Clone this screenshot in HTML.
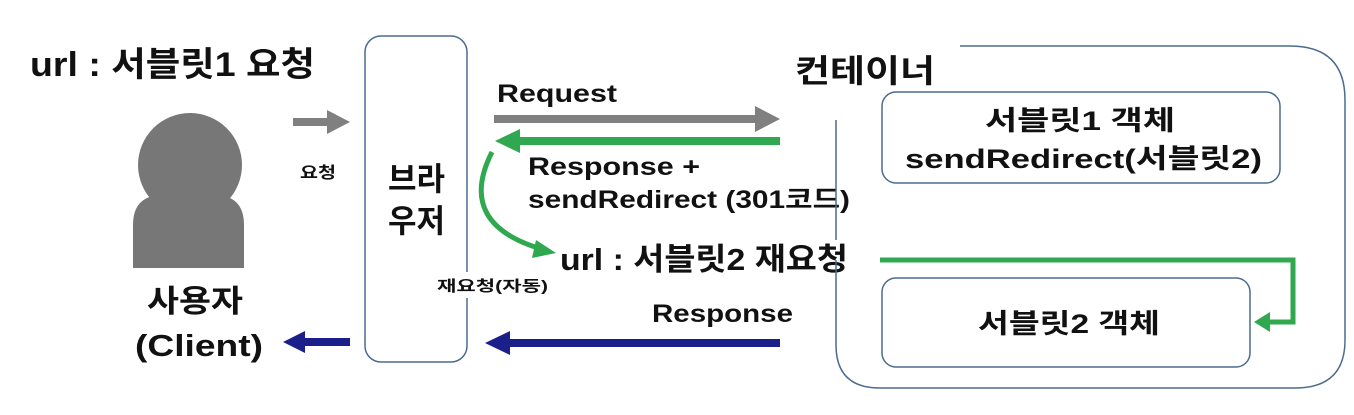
<!DOCTYPE html>
<html><head><meta charset="utf-8"><style>
body{margin:0;background:#fff;}
svg text{font-family:"Liberation Sans","Noto Sans CJK KR",sans-serif;font-weight:bold;fill:#111;}
</style></head><body>
<svg width="1354" height="410" viewBox="0 0 1354 410" xmlns="http://www.w3.org/2000/svg">
<!-- person -->
<circle cx="190" cy="165" r="52" fill="#777"/>
<path d="M133,268V225Q133,195 163,195H214Q244,195 244,225V268Z" fill="#777"/>
<text x="30" y="76" font-size="34" textLength="285" lengthAdjust="spacingAndGlyphs">url : 서블릿1 요청</text>
<text x="147" y="312" font-size="31" textLength="96" lengthAdjust="spacingAndGlyphs">사용자</text>
<text x="135" y="356" font-size="31" textLength="128" lengthAdjust="spacingAndGlyphs">(Client)</text>
<!-- small gray arrow -->
<path d="M293,118H327V110L350,122L327,134V126H293Z" fill="#808080"/>
<text x="300" y="178" font-size="16" textLength="36" lengthAdjust="spacingAndGlyphs">요청</text>
<!-- browser box -->
<rect x="365" y="36" width="102" height="326" rx="16" fill="none" stroke="#4a6b8f" stroke-width="1.5"/>
<text x="388" y="190" font-size="32" textLength="57" lengthAdjust="spacingAndGlyphs">브라</text>
<text x="388" y="232" font-size="32" textLength="57" lengthAdjust="spacingAndGlyphs">우저</text>
<rect x="430" y="272" width="122" height="26" fill="#fff"/>
<text x="437" y="291" font-size="15" textLength="111" lengthAdjust="spacingAndGlyphs">재요청(자동)</text>
<!-- blue arrows -->
<path d="M283,342L305,331V338H350V346H305V353Z" fill="#1b1f8a"/>
<path d="M485,343L510,331V339H780V347H510V355Z" fill="#1b1f8a"/>
<!-- request -->
<text x="497" y="102" font-size="25" textLength="120" lengthAdjust="spacingAndGlyphs">Request</text>
<path d="M494,115H755V106L780,119L755,132V123H494Z" fill="#808080"/>
<!-- green response -->
<path d="M495,141L520,129V137H780V145H520V153Z" fill="#2fa84f"/>
<text x="528" y="175" font-size="25" textLength="172" lengthAdjust="spacingAndGlyphs">Response  +</text>
<text x="528" y="208" font-size="25" textLength="322" lengthAdjust="spacingAndGlyphs">sendRedirect (301코드)</text>
<path d="M492,152Q455,225 545,250" fill="none" stroke="#2fa84f" stroke-width="5"/>
<path d="M556,253L536,240L532,258Z" fill="#2fa84f"/>
<text x="560" y="270" font-size="31" textLength="288" lengthAdjust="spacingAndGlyphs">url : 서블릿2 재요청</text>
<text x="652" y="322" font-size="25" textLength="141" lengthAdjust="spacingAndGlyphs">Response</text>
<!-- container -->
<path d="M960,46H1290Q1345,46 1345,100V340Q1345,388 1295,388H880Q836,388 836,345V260" fill="none" stroke="#4a6b8f" stroke-width="1.5"/>
<path d="M836,240V120" fill="none" stroke="#4a6b8f" stroke-width="1.5"/>
<text x="795" y="82" font-size="32" textLength="140" lengthAdjust="spacingAndGlyphs">컨테이너</text>
<rect x="882" y="92" width="398" height="91" rx="14" fill="none" stroke="#4a6b8f" stroke-width="1.5"/>
<text x="985" y="130" font-size="27" textLength="190" lengthAdjust="spacingAndGlyphs">서블릿1 객체</text>
<text x="905" y="168" font-size="27" textLength="357" lengthAdjust="spacingAndGlyphs">sendRedirect(서블릿2)</text>
<rect x="882" y="278" width="368" height="89" rx="14" fill="none" stroke="#4a6b8f" stroke-width="1.5"/>
<text x="978" y="333" font-size="27" textLength="182" lengthAdjust="spacingAndGlyphs">서블릿2 객체</text>
<path d="M880,260H1293V322H1268" fill="none" stroke="#2fa84f" stroke-width="5"/>
<path d="M1254,322L1270,312V332Z" fill="#2fa84f"/>
</svg>
</body></html>
